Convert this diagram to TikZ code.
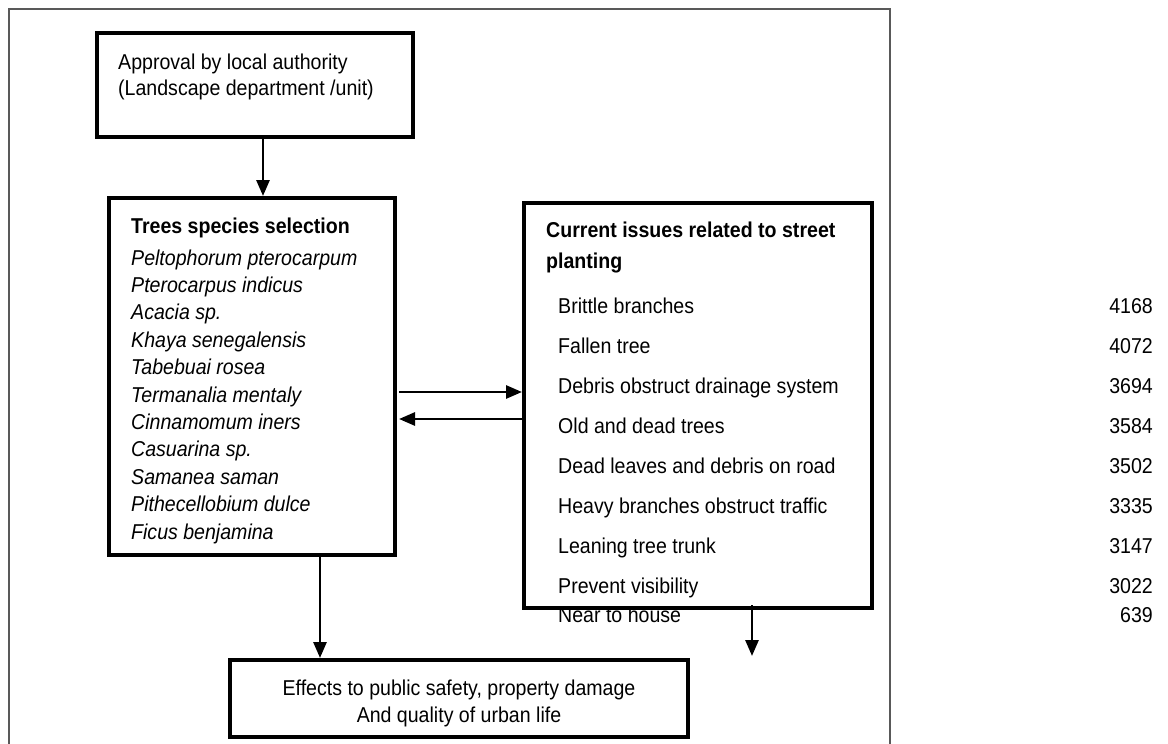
\documentclass[tikz,border=0pt]{standalone}
\usepackage{fontspec}
\setmainfont{Liberation Sans}[FakeStretch=0.91]
\usetikzlibrary{arrows.meta}
\tikzset{
  box/.style={draw, line width=4pt, inner sep=0pt},
  frame/.style={draw=black!65, line width=1.5pt},
  txt/.style={inner sep=0pt, anchor=base west, font=\fontsize{21.5}{26}\selectfont},
  num/.style={txt, anchor=base east},
  mid/.style={txt, anchor=base},
  arr/.style={-{Triangle[length=16pt,width=13pt]}, line width=2.8pt},
}
\begin{document}
\begin{tikzpicture}[x=1pt,y=-1pt]
      \useasboundingbox (0,0) rectangle (1168,744);
      \draw[frame] (9,744) -- (9,9) -- (890,9) -- (890,744);
      % boxes
      \draw
        (255,85) node[box, minimum width=316pt, minimum height=104pt] (approval){}
        (252,376.5) node[box, minimum width=286pt, minimum height=357pt] (species){}
        (698,405.5) node[box, minimum width=348pt, minimum height=405pt] (issues){}
        (459,698.5) node[box, minimum width=458pt, minimum height=77pt] (effects){};
      % texts
      \draw
        (118,69) node[txt] (ap1){Approval by local authority}
        (118,95) node[txt] (ap2){(Landscape department /unit)}
        (131,233) node[txt] (sp0){\bfseries Trees species selection}
        (131,265) node[txt] (sp1){\itshape Peltophorum pterocarpum}
        (131,292.4) node[txt] (sp2){\itshape Pterocarpus indicus}
        (131,319.8) node[txt] (sp3){\itshape Acacia sp.}
        (131,347.2) node[txt] (sp4){\itshape Khaya senegalensis}
        (131,374.6) node[txt] (sp5){\itshape Tabebuai rosea}
        (131,402) node[txt] (sp6){\itshape Termanalia mentaly}
        (131,429.4) node[txt] (sp7){\itshape Cinnamomum iners}
        (131,456.8) node[txt] (sp8){\itshape Casuarina sp.}
        (131,484.2) node[txt] (sp9){\itshape Samanea saman}
        (131,511.6) node[txt] (sp10){\itshape Pithecellobium dulce}
        (131,539) node[txt] (sp11){\itshape Ficus benjamina}
        (546,237) node[txt] (is0){\bfseries Current issues related to street}
        (546,268) node[txt] (is00){\bfseries planting}
        (558,313) node[txt] (is1){Brittle branches}
        (558,353) node[txt] (is2){Fallen tree}
        (558,393) node[txt] (is3){Debris obstruct drainage system}
        (558,433) node[txt] (is4){Old and dead trees}
        (558,473) node[txt] (is5){Dead leaves and debris on road}
        (558,513) node[txt] (is6){Heavy branches obstruct traffic}
        (558,553) node[txt] (is7){Leaning tree trunk}
        (558,593) node[txt] (is8){Prevent visibility}
        (558,622) node[txt] (is9){Near to house}
        (1153,313) node[num] (n1){4168}
        (1153,353) node[num] (n2){4072}
        (1153,393) node[num] (n3){3694}
        (1153,433) node[num] (n4){3584}
        (1153,473) node[num] (n5){3502}
        (1153,513) node[num] (n6){3335}
        (1153,553) node[num] (n7){3147}
        (1153,593) node[num] (n8){3022}
        (1153,622) node[num] (n9){639}
        (459,695) node[mid] (ef1){Effects to public safety, property damage}
        (459,722) node[mid] (ef2){And quality of urban life};
      \coordinate (loose) at (752,656);
      \begin{scope}[arr]
        \draw ([xshift=8pt]approval.south) to ([xshift=11pt]species.north);
        \draw ([xshift=2pt,yshift=-15.5pt]species.east) to ([yshift=13.5pt]issues.west);
        \draw ([yshift=-13.5pt]issues.west) to ([xshift=2pt,yshift=-42.5pt]species.east);
        \draw ([xshift=68pt]species.south) to ([xshift=-139pt]effects.north);
        \draw ([xshift=54pt,yshift=5pt]issues.south) to (loose);
      \end{scope}
    \end{tikzpicture}
\end{document}
